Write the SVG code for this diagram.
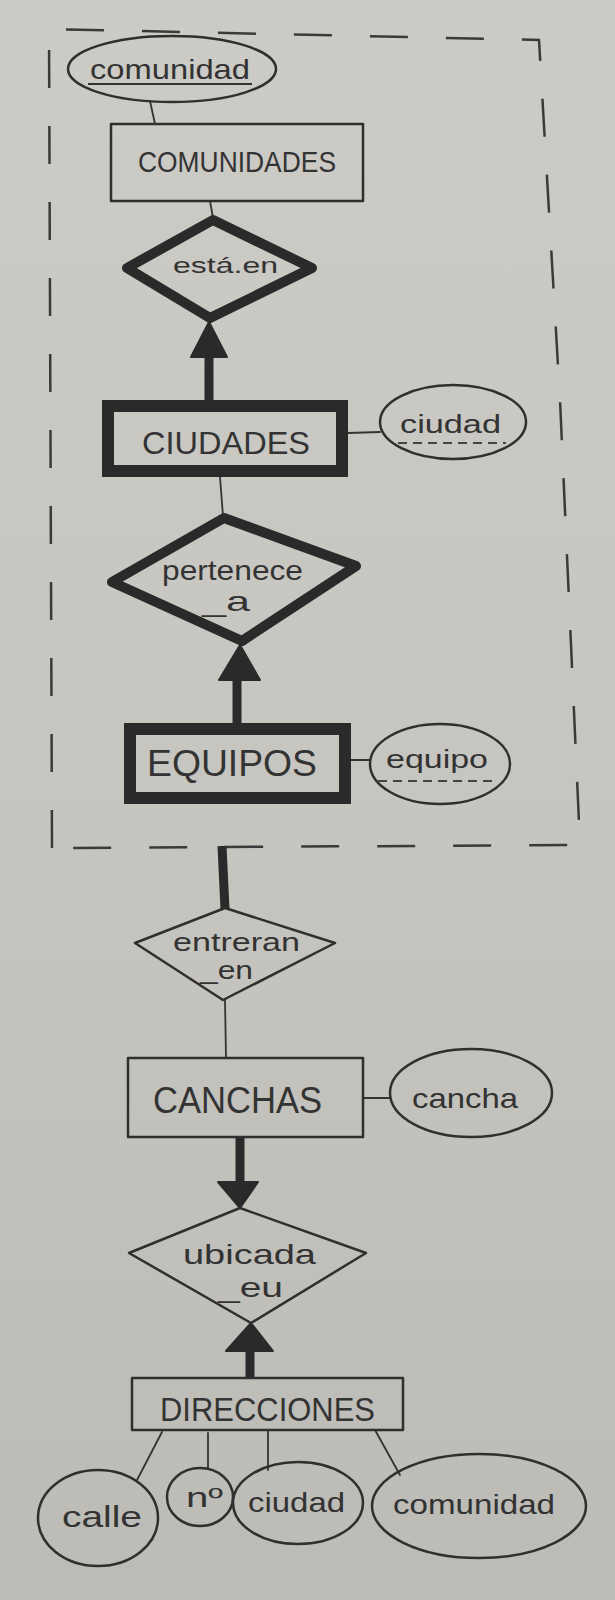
<svg xmlns="http://www.w3.org/2000/svg" width="615" height="1600" viewBox="0 0 615 1600">
<defs>
<linearGradient id="paper" x1="0" y1="0" x2="0" y2="1">
<stop offset="0" stop-color="#cccbc6"/>
<stop offset="0.5" stop-color="#c6c5c0"/>
<stop offset="1" stop-color="#bcbbb6"/>
</linearGradient>
<style>
.thin{fill:none;stroke:#2f2f2f;stroke-width:2.5;stroke-linejoin:round;stroke-linecap:round}
.thick{fill:none;stroke:#2a2a2a;stroke-width:10;stroke-linejoin:round}
.frame{fill:none;stroke:#2a2a2a;stroke-width:12}
.line{fill:none;stroke:#333;stroke-width:1.8;stroke-linecap:round}
.bold{fill:none;stroke:#2a2a2a;stroke-width:9;stroke-linecap:butt}
.head{fill:#2a2a2a;stroke:#2a2a2a;stroke-width:2;stroke-linejoin:round}
.border{fill:none;stroke:#3a3a3a;stroke-width:2.5;stroke-dasharray:38 38}
.t{font-family:"Liberation Sans","DejaVu Sans",sans-serif;fill:#333;text-anchor:start}
.ul{stroke:#333;stroke-width:2}
.dul{stroke:#444;stroke-width:2;stroke-dasharray:9 6}
</style>
</defs>
<rect width="615" height="1600" fill="url(#paper)"/>

<g id="group-border">
<path class="border" d="M52 848 L49 29 L539 40 L560 400 L580 845 Z"/>
</g>

<g id="connectors">
<line class="line" x1="150" y1="101" x2="155" y2="124"/>
<line class="line" x1="210" y1="201" x2="213" y2="218"/>
<line class="bold" x1="209" y1="355" x2="209" y2="401"/>
<polygon class="head" points="209,322 191,357 227,357"/>
<line class="line" x1="348" y1="433" x2="380" y2="432"/>
<line class="line" x1="220" y1="477" x2="223" y2="516"/>
<line class="bold" x1="237" y1="678" x2="237" y2="724"/>
<polygon class="head" points="240,645 219,680 260,680"/>
<line class="line" x1="351" y1="760" x2="370" y2="760"/>
<line class="bold" x1="222" y1="846" x2="225" y2="909"/>
<line class="line" x1="225" y1="1000" x2="226" y2="1058"/>
<line class="line" x1="363" y1="1098" x2="390" y2="1098"/>
<line class="bold" x1="240" y1="1137" x2="240" y2="1184"/>
<polygon class="head" points="218,1182 258,1182 240,1208"/>
<line class="bold" x1="250" y1="1349" x2="250" y2="1379"/>
<polygon class="head" points="251,1323 226,1351 273,1351"/>
<line class="line" x1="162" y1="1432" x2="137" y2="1480"/>
<line class="line" x1="208" y1="1433" x2="208" y2="1468"/>
<line class="line" x1="268" y1="1431" x2="268" y2="1470"/>
<line class="line" x1="375" y1="1430" x2="400" y2="1475"/>
</g>

<g id="attr-comunidad-top">
<ellipse class="thin" cx="172" cy="69" rx="104" ry="33"/>
<text class="t" x="90" y="79" font-size="28" textLength="160" lengthAdjust="spacingAndGlyphs">comunidad</text>
<line class="ul" x1="88" y1="84" x2="252" y2="84"/>
</g>

<g id="entity-comunidades">
<rect class="thin" x="111" y="124" width="252" height="77"/>
<text class="t" x="138" y="172" font-size="30" textLength="198" lengthAdjust="spacingAndGlyphs">COMUNIDADES</text>
</g>

<g id="rel-esta-en">
<polygon class="thick" stroke-width="9" points="213,220 312,268 210,318 127,268"/>
<text class="t" x="173" y="273" font-size="22" textLength="105" lengthAdjust="spacingAndGlyphs">está.en</text>
</g>

<g id="entity-ciudades">
<rect class="frame" x="108" y="406" width="234" height="65"/>
<text class="t" x="142" y="454" font-size="32" textLength="168" lengthAdjust="spacingAndGlyphs">CIUDADES</text>
</g>

<g id="attr-ciudad-top">
<ellipse class="thin" cx="453" cy="422" rx="73" ry="37"/>
<text class="t" x="400" y="433" font-size="26" textLength="101" lengthAdjust="spacingAndGlyphs">ciudad</text>
<line class="dul" x1="398" y1="443" x2="506" y2="443"/>
</g>

<g id="rel-pertenece-a">
<polygon class="thick" stroke-width="11" points="224,518 356,566 242,641 112,582"/>
<text class="t" x="162" y="580" font-size="28" textLength="141" lengthAdjust="spacingAndGlyphs">pertenece</text>
<text class="t" x="202" y="611" font-size="28" textLength="48" lengthAdjust="spacingAndGlyphs">_a</text>
</g>

<g id="entity-equipos">
<rect class="frame" x="130" y="729" width="215" height="69"/>
<text class="t" x="147" y="776" font-size="36" textLength="170" lengthAdjust="spacingAndGlyphs">EQUIPOS</text>
</g>

<g id="attr-equipo">
<ellipse class="thin" cx="440" cy="764" rx="70" ry="40"/>
<text class="t" x="386" y="768" font-size="26" textLength="102" lengthAdjust="spacingAndGlyphs">equipo</text>
<line class="dul" x1="378" y1="781" x2="492" y2="781"/>
</g>

<g id="rel-entreran-en">
<polygon class="thin" points="225,908 335,943 223,1000 135,943"/>
<text class="t" x="173" y="951" font-size="26" textLength="127" lengthAdjust="spacingAndGlyphs">entreran</text>
<text class="t" x="200" y="979" font-size="26" textLength="53" lengthAdjust="spacingAndGlyphs">_en</text>
</g>

<g id="entity-canchas">
<rect class="thin" x="128" y="1058" width="235" height="79"/>
<text class="t" x="153" y="1113" font-size="36" textLength="169" lengthAdjust="spacingAndGlyphs">CANCHAS</text>
</g>

<g id="attr-cancha">
<ellipse class="thin" cx="471" cy="1093" rx="81" ry="44"/>
<text class="t" x="412" y="1108" font-size="28" textLength="106" lengthAdjust="spacingAndGlyphs">cancha</text>
</g>

<g id="rel-ubicada-eu">
<polygon class="thin" points="240,1208 366,1253 251,1323 129,1253"/>
<text class="t" x="183" y="1264" font-size="28" textLength="133" lengthAdjust="spacingAndGlyphs">ubicada</text>
<text class="t" x="218" y="1297" font-size="28" textLength="65" lengthAdjust="spacingAndGlyphs">_eu</text>
</g>

<g id="entity-direcciones">
<rect class="thin" x="132" y="1378" width="271" height="52"/>
<text class="t" x="160" y="1421" font-size="34" textLength="215" lengthAdjust="spacingAndGlyphs">DIRECCIONES</text>
</g>

<g id="attr-calle">
<ellipse class="thin" cx="98" cy="1518" rx="60" ry="48"/>
<text class="t" x="62" y="1527" font-size="30" textLength="80" lengthAdjust="spacingAndGlyphs">calle</text>
</g>

<g id="attr-numero">
<ellipse class="thin" cx="200" cy="1497" rx="33" ry="29"/>
<text class="t" x="186" y="1507" font-size="28" textLength="37" lengthAdjust="spacingAndGlyphs">nº</text>
</g>

<g id="attr-ciudad-bottom">
<ellipse class="thin" cx="298" cy="1503" rx="65" ry="41"/>
<text class="t" x="248" y="1512" font-size="28" textLength="97" lengthAdjust="spacingAndGlyphs">ciudad</text>
</g>

<g id="attr-comunidad-bottom">
<ellipse class="thin" cx="479" cy="1506" rx="107" ry="52"/>
<text class="t" x="393" y="1514" font-size="28" textLength="162" lengthAdjust="spacingAndGlyphs">comunidad</text>
</g>
</svg>
